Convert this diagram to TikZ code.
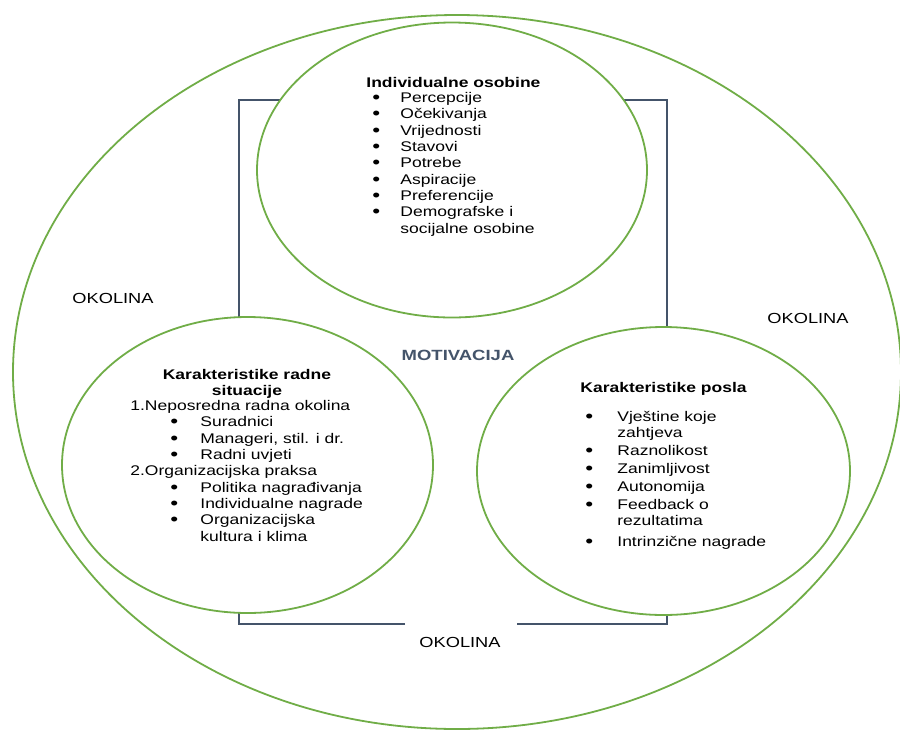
\documentclass[tikz,border=0pt]{standalone}
\usepackage{fontspec}
\setmainfont{Liberation Sans}[FakeStretch=1.25]
\usetikzlibrary{shapes.geometric, positioning}
\definecolor{ringgreen}{RGB}{112,173,71}
\definecolor{framegray}{RGB}{68,84,106}
\newcommand{\bul}[2][14pt]{\makebox[#1][l]{\raisebox{-0.5pt}{\fontsize{9}{8}\selectfont\textbullet}}#2}
\tikzset{
    ring/.style={ellipse, draw=ringgreen, line width=0.9pt, fill=white, inner sep=0pt},
    okolina/.style={font=\fontsize{7.3}{8.15}\selectfont, inner sep=0pt},
    txt/.style={font=\fontsize{7}{8.15}\selectfont, align=left, inner sep=0pt, anchor=base west},
    hdr/.style={font=\fontsize{7}{8.15}\selectfont\bfseries, inner sep=0pt},
}

\begin{document}
\begin{tikzpicture}[x=0.5pt, y=-0.5pt]
    \useasboundingbox (0,0) rectangle (900,729);

    % environment
    \node[ring, fill=none, minimum width=444pt, minimum height=357pt] (env) at (457,372) {};

    % frame behind the three circles
    \coordinate (fl) at (405,624);
    \coordinate (fr) at (517,624);
    \draw[framegray, line width=1pt] (fl) -| (239,100) -| (667,624) -- (fr);

    \node[ring, minimum width=195pt, minimum height=147.5pt] (ind) at (452,170) {};
    \node[ring, minimum width=185.5pt, minimum height=148pt] (rad) at (247.5,465) {};
    \node[ring, minimum width=186.5pt, minimum height=144pt] (pos) at (663.5,471) {};

    % individualne osobine (multi-line nodes sit on their last baseline)
    \node[hdr, anchor=base west] (indT) at (366,87) {Individualne osobine};
    \node[txt] (indL) at (372,233) {\bul{Percepcije}\\ \bul{Očekivanja}\\ \bul{Vrijednosti}\\
      \bul{Stavovi}\\ \bul{Potrebe}\\ \bul{Aspiracije}\\ \bul{Preferencije}\\
      \bul{Demografske i}\\ \hspace*{14pt}socijalne osobine};

    % radna situacija
    \node[hdr, align=center] (radT) at (247,384) {Karakteristike radne\\situacije};
    \node[txt] (radL) at (130,541) {1.Neposredna radna okolina\\
      \hspace*{20pt}\bul[15pt]{Suradnici}\\
      \hspace*{20pt}\bul[15pt]{Manageri, stil. i dr.}\\
      \hspace*{20pt}\bul[15pt]{Radni uvjeti}\\
      2.Organizacijska praksa\\
      \hspace*{20pt}\bul[15pt]{Politika nagrađivanja}\\
      \hspace*{20pt}\bul[15pt]{Individualne nagrade}\\
      \hspace*{20pt}\bul[15pt]{Organizacijska}\\
      \hspace*{35pt}kultura i klima};

    % posao
    \node[hdr, anchor=base west] (posT) at (580,392) {Karakteristike posla};
    \node[txt] (posL) at (585,546) {\bul[16pt]{Vještine koje}\\ \hspace*{16pt}zahtjeva\\[0.8pt]
      \bul[16pt]{Raznolikost}\\[0.8pt] \bul[16pt]{Zanimljivost}\\[0.8pt]
      \bul[16pt]{Autonomija}\\[0.8pt] \bul[16pt]{Feedback o}\\ \hspace*{16pt}rezultatima\\[2pt]
      \bul[16pt]{Intrinzične nagrade}};

    \node[hdr, text=framegray, font=\fontsize{7.4}{8.15}\selectfont\bfseries] (mot) at (458,355) {MOTIVACIJA};

    \node[okolina] (envL) at (113,298) {OKOLINA};
    \node[okolina] (envR) at (808,318) {OKOLINA};
    \node[okolina] (envB) at (460,642) {OKOLINA};
\end{tikzpicture}
\end{document}
